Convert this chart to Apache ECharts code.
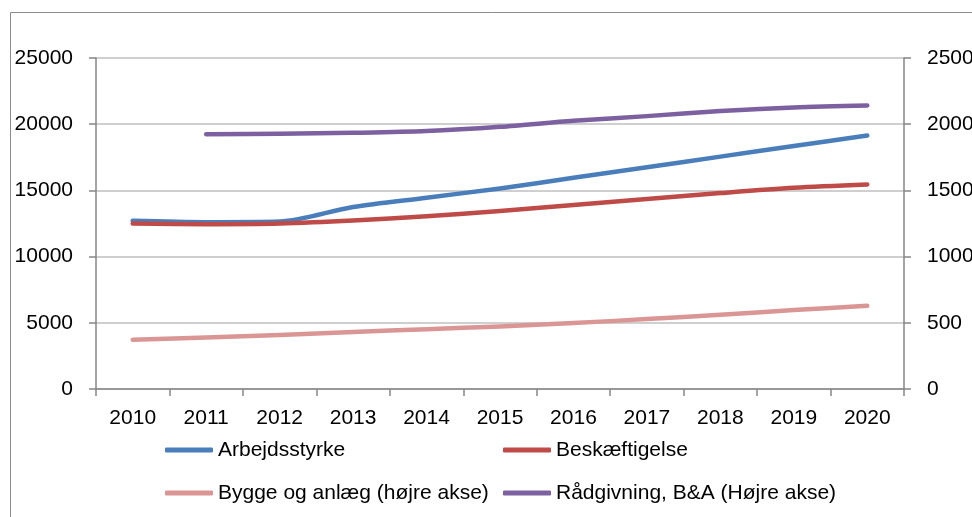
<!DOCTYPE html>
<html>
<head>
<meta charset="utf-8">
<script src="https://cdn.jsdelivr.net/npm/echarts@6/dist/echarts.min.js"></script>
<style>html,body{margin:0;padding:0;background:#fff}#c{width:972px;height:517px}</style>
</head>
<body>
<div id="c"></div>
<script>
const years = ['2010','2011','2012','2013','2014','2015','2016','2017','2018','2019','2020'];
const arbejdsstyrke = [12700, 12600, 12650, 13750, 14450, 15150, 15950, 16750, 17550, 18350, 19150];
const beskaeftigelse = [12500, 12450, 12500, 12720, 13050, 13450, 13900, 14350, 14800, 15200, 15450];
const bygge = [372, 389, 407, 430, 452, 472, 498, 528, 560, 596, 628];
const raadgivning = [null, 1925, 1928, 1935, 1948, 1980, 2026, 2061, 2099, 2127, 2142];
const leftTicks = {min: 0, max: 25000, interval: 5000};
const rightTicks = {min: 0, max: 2500, interval: 500};
const names = ['Arbejdsstyrke', 'Beskæftigelse', 'Bygge og anlæg (højre akse)', 'Rådgivning, B&A (Højre akse)'];
const colors = ['#4A7EBB', '#BE4B48', '#DA9694', '#7D60A0'];

const FONT = '"Liberation Sans", Arial, sans-serif';
const axisGray = '#868686';
const chart = echarts.init(document.getElementById('c'), null, {renderer: 'canvas'});

function mkSeries(i, data, yIdx) {
  return {
    name: names[i], type: 'line', data: data, yAxisIndex: yIdx,
    smooth: 0.3, showSymbol: false, symbol: 'none',
    lineStyle: {color: colors[i], width: 4.5, cap: 'round', join: 'round'},
    itemStyle: {color: colors[i]},
    emphasis: {disabled: true}, animation: false
  };
}

const legendCommon = {
  orient: 'vertical', icon: 'roundRect', itemWidth: 48, itemHeight: 5,
  itemGap: 19, padding: 0,
  textStyle: {fontFamily: FONT, fontSize: 21, color: '#000', lineHeight: 24},
  selectedMode: false
};

chart.setOption({
  animation: false,
  backgroundColor: '#fff',
  graphic: [{
    type: 'rect', shape: {x: 10.5, y: 12.5, width: 1000, height: 600},
    style: {fill: null, stroke: '#8C8C8C', lineWidth: 1}, silent: true, z: -10
  }],
  grid: {left: 96, right: 68, top: 58, bottom: 128, containLabel: false, outerBoundsMode: 'none'},
  legend: [
    Object.assign({left: 165, top: 438, data: [names[0], names[2]]}, legendCommon),
    Object.assign({left: 503, top: 438, data: [names[1], names[3]]}, legendCommon)
  ],
  xAxis: {
    type: 'category', data: years, boundaryGap: true,
    axisLine: {lineStyle: {color: axisGray, width: 1.5}},
    axisTick: {show: true, length: 7, inside: false, lineStyle: {color: axisGray, width: 1.5}},
    axisLabel: {fontFamily: FONT, fontSize: 21, color: '#000', margin: 19, interval: 0},
    splitLine: {show: false}
  },
  yAxis: [{
    type: 'value', min: leftTicks.min, max: leftTicks.max, interval: leftTicks.interval,
    axisLine: {show: true, lineStyle: {color: axisGray, width: 1.5}},
    axisTick: {show: true, length: 7, lineStyle: {color: axisGray, width: 1.5}},
    axisLabel: {fontFamily: FONT, fontSize: 21, color: '#000', margin: 23, formatter: v => String(v)},
    splitLine: {show: true, lineStyle: {color: '#BFBFBF', width: 1.5}}
  }, {
    type: 'value', position: 'right', min: rightTicks.min, max: rightTicks.max, interval: rightTicks.interval,
    axisLine: {show: true, lineStyle: {color: axisGray, width: 1.5}},
    axisTick: {show: true, length: 7, lineStyle: {color: axisGray, width: 1.5}},
    axisLabel: {fontFamily: FONT, fontSize: 21, color: '#000', margin: 23, formatter: v => String(v)},
    splitLine: {show: false}
  }],
  series: [
    mkSeries(0, arbejdsstyrke, 0),
    mkSeries(1, beskaeftigelse, 0),
    mkSeries(2, bygge, 1),
    mkSeries(3, raadgivning, 1)
  ]
});
</script>
</body>
</html>
